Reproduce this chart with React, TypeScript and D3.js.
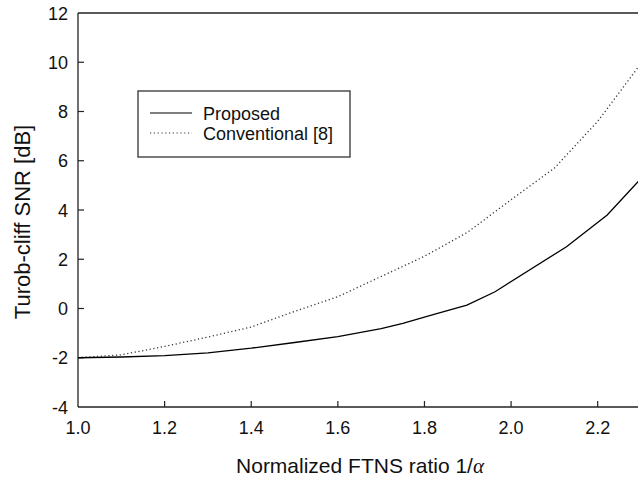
import React, { useEffect, useRef } from "react";
import * as d3 from "d3";

const proposedX = [1.0, 1.1, 1.2, 1.3, 1.4, 1.5, 1.6, 1.7, 1.75, 1.82, 1.898, 1.963, 2.128, 2.222, 2.3];
const proposedY = [-2.0, -1.97, -1.91, -1.8, -1.61, -1.38, -1.14, -0.82, -0.6, -0.25, 0.14, 0.68, 2.51, 3.8, 5.28];

const conventionalX = [1.0, 1.1, 1.2, 1.3, 1.4, 1.5, 1.6, 1.7, 1.8, 1.9, 2.0, 2.1, 2.2, 2.3];
const conventionalY = [-2.0, -1.88, -1.54, -1.16, -0.75, -0.12, 0.48, 1.3, 2.12, 3.1, 4.42, 5.7, 7.6, 9.95];

const xTicks = [1.0, 1.2, 1.4, 1.6, 1.8, 2.0, 2.2];
const yTicks = [-4, -2, 0, 2, 4, 6, 8, 10, 12];
const legendLabels = ["Proposed", "Conventional [8]"];

const W = 638;
const H = 478;

const Chart = () => {
  const ref = useRef(null);

  useEffect(() => {
    const svg = d3.select(ref.current);
    svg.selectAll("*").remove();

    const x = d3.scaleLinear().domain([1.0, 2.3]).range([78, 641]);
    const y = d3.scaleLinear().domain([-4, 12]).range([407, 13]);
    const font = "'Liberation Sans', Arial, sans-serif";
    const ink = "#222";

    // frame: left, bottom, top
    svg.append("line").attr("x1", 78).attr("x2", 78).attr("y1", 13).attr("y2", 407)
      .attr("stroke", ink).attr("stroke-width", 1.3);
    svg.append("line").attr("x1", 78).attr("x2", W).attr("y1", 407).attr("y2", 407)
      .attr("stroke", ink).attr("stroke-width", 1.3);
    svg.append("line").attr("x1", 78).attr("x2", W).attr("y1", 13).attr("y2", 13)
      .attr("stroke", ink).attr("stroke-width", 1.3);

    // ticks point inwards
    svg.selectAll(".xt").data(xTicks.slice(1)).enter().append("line")
      .attr("x1", (d) => x(d)).attr("x2", (d) => x(d))
      .attr("y1", 407).attr("y2", 401)
      .attr("stroke", ink).attr("stroke-width", 1.2);
    svg.selectAll(".xl").data(xTicks).enter().append("text")
      .attr("x", (d) => x(d)).attr("y", 434)
      .attr("text-anchor", "middle")
      .style("font-family", font).style("font-size", "18px").attr("fill", "#111")
      .text((d) => d3.format(".1f")(d));

    svg.selectAll(".yt").data(yTicks.slice(1, -1)).enter().append("line")
      .attr("x1", 78).attr("x2", 84)
      .attr("y1", (d) => y(d)).attr("y2", (d) => y(d))
      .attr("stroke", ink).attr("stroke-width", 1.2);
    svg.selectAll(".yl").data(yTicks).enter().append("text")
      .attr("x", 68).attr("y", (d) => y(d) + 6.5)
      .attr("text-anchor", "end")
      .style("font-family", font).style("font-size", "18px").attr("fill", "#111")
      .text((d) => d);

    // axis titles
    const xt = svg.append("text")
      .attr("x", 360).attr("y", 473)
      .attr("text-anchor", "middle")
      .style("font-family", font).style("font-size", "21px").attr("fill", "#111");
    xt.append("tspan").text("Normalized FTNS ratio 1/");
    xt.append("tspan").style("font-family", "'Liberation Serif', 'DejaVu Serif', serif")
      .style("font-style", "italic").text("\u03b1");

    svg.append("text")
      .attr("transform", "translate(30,222) rotate(-90)")
      .attr("text-anchor", "middle")
      .style("font-family", font).style("font-size", "22px").attr("fill", "#111")
      .text("Turob-cliff SNR [dB]");

    // series
    const line = d3.line().x((d) => x(d[0])).y((d) => y(d[1]));
    const conv = conventionalX.map((v, i) => [v, conventionalY[i]]);
    const prop = proposedX.map((v, i) => [v, proposedY[i]]);

    svg.append("path").attr("d", line(conv))
      .attr("fill", "none").attr("stroke", "#333").attr("stroke-width", 1.3)
      .attr("stroke-dasharray", "1.2,2.6");
    svg.append("path").attr("d", line(prop))
      .attr("fill", "none").attr("stroke", "#000").attr("stroke-width", 1.3);

    // legend
    svg.append("rect").attr("x", 138).attr("y", 91).attr("width", 212).attr("height", 66)
      .attr("fill", "#fff").attr("stroke", ink).attr("stroke-width", 1.2);
    const dashes = [null, "1.2,2.6"];
    legendLabels.forEach((lab, i) => {
      const ly = 113 + i * 20;
      const l = svg.append("line").attr("x1", 150).attr("x2", 192).attr("y1", ly).attr("y2", ly)
        .attr("stroke", i === 0 ? "#000" : "#333").attr("stroke-width", 1.2);
      if (dashes[i]) l.attr("stroke-dasharray", dashes[i]);
      svg.append("text").attr("x", 203).attr("y", ly + 6.5)
        .style("font-family", font).style("font-size", "18px").attr("fill", "#111")
        .text(lab);
    });
  });

  return <svg ref={ref} width={W} height={H} style={{ position: "absolute", left: 0, top: 0 }}></svg>;
};

export default function App() {
  return (
    <div>
      <Chart />
    </div>
  );
}
